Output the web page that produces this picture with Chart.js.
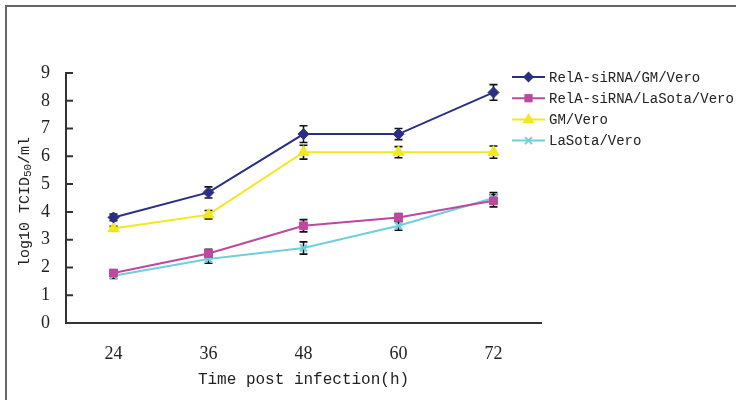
<!DOCTYPE html>
<html>
<head>
<meta charset="utf-8">
<script src="https://cdn.jsdelivr.net/npm/chart.js@4.4.1/dist/chart.umd.min.js"></script>
<style>
  html, body { margin: 0; padding: 0; background: #fff; }
  #wrap { position: relative; width: 736px; height: 400px; overflow: hidden; }
  #frame { position: absolute; left: 5px; top: 5px; width: 740px; height: 400px;
           border-top: 2px solid #666; border-left: 2px solid #666; box-sizing: border-box; }
  canvas { position: absolute; left: 0; top: 0; }
</style>
</head>
<body>
<div id="wrap">
  <div id="frame"></div>
  <canvas id="c" width="736" height="400"></canvas>
</div>
<script>
const categories = ['24', '36', '48', '60', '72'];
const seriesNames = ['RelA-siRNA/GM/Vero', 'RelA-siRNA/LaSota/Vero', 'GM/Vero', 'LaSota/Vero'];
const relaGm = [3.8, 4.7, 6.8, 6.8, 8.3];
const relaGmErr = [0.12, 0.2, 0.3, 0.2, 0.28];
const relaLs = [1.8, 2.5, 3.5, 3.8, 4.4];
const relaLsErr = [0.1, 0.15, 0.22, 0.14, 0.22];
const gm = [3.4, 3.9, 6.15, 6.15, 6.15];
const gmErr = [0.08, 0.15, 0.25, 0.2, 0.22];
const ls = [1.7, 2.3, 2.7, 3.5, 4.5];
const lsErr = [0.1, 0.15, 0.22, 0.16, 0.2];
const yTicks = [0, 1, 2, 3, 4, 5, 6, 7, 8, 9];
const yTitleParts = ['log10 TCID', '50', '/ml'];

const colors = ['#2B2F84', '#BE47A0', '#F2E81C', '#6FCFDC'];
const styles = ['rectRot', 'rect', 'triangle', 'crossRot'];
const radii = [5.5, 5.5, 6.5, 5];
const values = [relaGm, relaLs, gm, ls];
const errors = [relaGmErr, relaLsErr, gmErr, lsErr];

const datasets = seriesNames.map((n, i) => ({
  label: n,
  data: values[i],
  borderColor: colors[i],
  backgroundColor: colors[i],
  pointBackgroundColor: colors[i],
  pointBorderColor: colors[i],
  pointStyle: styles[i],
  pointRadius: radii[i],
  pointBorderWidth: i === 3 ? 2 : 1,
  borderWidth: 2,
  tension: 0,
  fill: false
}));

const errorBars = {
  id: 'errorBars',
  beforeDatasetsDraw(chart) {
    const ctx = chart.ctx, y = chart.scales.y;
    ctx.save();
    ctx.strokeStyle = '#111';
    ctx.lineWidth = 1.6;
    chart.data.datasets.forEach((ds, i) => {
      const meta = chart.getDatasetMeta(i);
      meta.data.forEach((pt, j) => {
        const v = values[i][j], e = errors[i][j];
        const yt = y.getPixelForValue(v + e), yb = y.getPixelForValue(v - e);
        ctx.beginPath();
        ctx.moveTo(pt.x, yt); ctx.lineTo(pt.x, yb);
        ctx.moveTo(pt.x - 4, yt); ctx.lineTo(pt.x + 4, yt);
        ctx.moveTo(pt.x - 4, yb); ctx.lineTo(pt.x + 4, yb);
        ctx.stroke();
      });
    });
    ctx.restore();
  }
};

const innerTicks = {
  id: 'innerTicks',
  afterDraw(chart) {
    const ctx = chart.ctx, y = chart.scales.y, x0 = chart.chartArea.left;
    ctx.save();
    ctx.strokeStyle = '#333';
    ctx.lineWidth = 2;
    ctx.beginPath();
    y.ticks.forEach((t, i) => {
      const py = y.getPixelForTick(i);
      ctx.moveTo(x0, py); ctx.lineTo(x0 + 7, py);
    });
    ctx.stroke();
    ctx.restore();
  }
};

const yTitle = {
  id: 'yTitle',
  afterDraw(chart) {
    const ctx = chart.ctx;
    const big = '15px "Liberation Mono", monospace';
    const small = '11px "Liberation Mono", monospace';
    ctx.save();
    ctx.fillStyle = '#222';
    ctx.textBaseline = 'alphabetic';
    ctx.font = big; const w0 = ctx.measureText(yTitleParts[0]).width, w2 = ctx.measureText(yTitleParts[2]).width;
    ctx.font = small; const w1 = ctx.measureText(yTitleParts[1]).width;
    const total = w0 + w1 + w2;
    ctx.translate(29, 202);
    ctx.rotate(-Math.PI / 2);
    let x = -total / 2;
    ctx.font = big; ctx.fillText(yTitleParts[0], x, 0); x += w0;
    ctx.font = small; ctx.fillText(yTitleParts[1], x, 2); x += w1;
    ctx.font = big; ctx.fillText(yTitleParts[2], x, 0);
    ctx.restore();
  }
};

function drawMarker(ctx, style, x, y, r, color) {
  ctx.save();
  ctx.fillStyle = color; ctx.strokeStyle = color;
  ctx.beginPath();
  if (style === 'rectRot') {
    ctx.moveTo(x, y - r); ctx.lineTo(x + r, y); ctx.lineTo(x, y + r); ctx.lineTo(x - r, y); ctx.closePath(); ctx.fill();
  } else if (style === 'rect') {
    const s = r * 0.75;
    ctx.rect(x - s, y - s, 2 * s, 2 * s); ctx.fill();
  } else if (style === 'triangle') {
    ctx.moveTo(x, y - r); ctx.lineTo(x + r * 0.95, y + r * 0.6); ctx.lineTo(x - r * 0.95, y + r * 0.6); ctx.closePath(); ctx.fill();
  } else {
    const s = r * 0.7;
    ctx.lineWidth = 2;
    ctx.moveTo(x - s, y - s); ctx.lineTo(x + s, y + s);
    ctx.moveTo(x + s, y - s); ctx.lineTo(x - s, y + s); ctx.stroke();
  }
  ctx.restore();
}

const customLegend = {
  id: 'customLegend',
  afterDraw(chart) {
    const ctx = chart.ctx;
    ctx.save();
    ctx.font = '14px "Liberation Mono", monospace';
    ctx.textBaseline = 'middle';
    ctx.fillStyle = '#222';
    seriesNames.forEach((n, i) => {
      const yy = 77 + i * 21.2;
      ctx.strokeStyle = colors[i];
      ctx.lineWidth = 2;
      ctx.beginPath(); ctx.moveTo(512, yy); ctx.lineTo(545, yy); ctx.stroke();
      drawMarker(ctx, styles[i], 528.5, yy, radii[i], colors[i]);
      ctx.fillText(n, 549, yy + 1);
    });
    ctx.restore();
  }
};

new Chart(document.getElementById('c'), {
  type: 'line',
  data: { labels: categories, datasets },
  options: {
    responsive: false,
    animation: false,
    layout: { padding: { left: 0, right: 195, top: 73, bottom: 0 } },
    plugins: { legend: { display: false }, tooltip: { enabled: false } },
    scales: {
      x: {
        type: 'category',
        offset: true,
        grid: { display: false, drawTicks: false },
        border: { display: true, color: '#333', width: 2 },
        ticks: { color: '#222', padding: 20, font: { family: '"Liberation Serif", serif', size: 18 } },
        title: { display: true, text: 'Time post infection(h)', color: '#222',
                 font: { family: '"Liberation Mono", monospace', size: 16 }, padding: { top: 0, bottom: 11 } },
        afterFit(s) { s.height = 77; }
      },
      y: {
        min: 0, max: 9,
        afterBuildTicks(s) { s.ticks = yTicks.map(v => ({ value: v })); },
        grid: { display: false, drawTicks: false },
        border: { display: true, color: '#333', width: 2 },
        ticks: { color: '#222', padding: 16, font: { family: '"Liberation Serif", serif', size: 18 } },
        title: { display: false },
        afterFit(s) { s.width = 66; }
      }
    }
  },
  plugins: [errorBars, innerTicks, yTitle, customLegend]
});
</script>
</body>
</html>
